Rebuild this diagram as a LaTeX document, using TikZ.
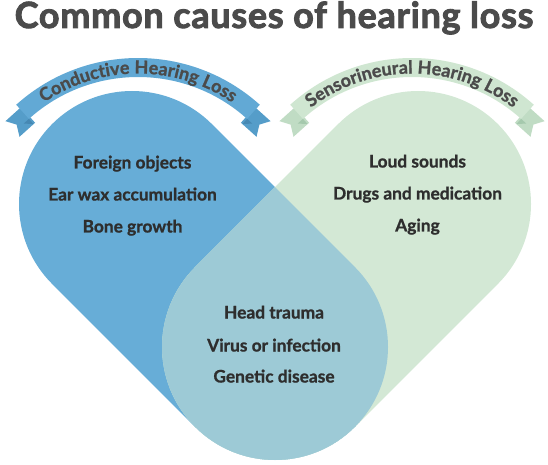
\documentclass[tikz,border=0pt]{standalone}
\usepackage{fontspec}
\setmainfont{Lato}[BoldFeatures={FakeBold=1}]
\newfontfamily\titlefont{Lato}[BoldFeatures={FakeBold=2.5,LetterSpace=2}]
\newfontfamily\bannerfont{Lato}[BoldFeatures={FakeBold=1.2,LetterSpace=1}]
\usetikzlibrary{decorations.text}
\definecolor{cblue}{HTML}{67ADD7}
\definecolor{cgreen}{HTML}{D3E8D5}
\definecolor{cteal}{HTML}{9DCAD6}
\definecolor{bblue}{HTML}{62A9D5}
\definecolor{bbluetail}{HTML}{559DC9}
\definecolor{bbluefold}{HTML}{4688B3}
\definecolor{bgreen}{HTML}{CFE6D1}
\definecolor{bgreentail}{HTML}{C0DCC4}
\definecolor{bgreenfold}{HTML}{A5C9AD}
\definecolor{txt}{HTML}{2E2E2E}
\definecolor{ttl}{HTML}{4B4B4B}
\tikzset{
  item/.style={font=\fontsize{13}{15}\selectfont\bfseries, text=txt, anchor=base, inner sep=0pt},
  bannertext/.style={decorate, decoration={text along path, text align=center,
     text={|\bannerfont\fontsize{13.5}{15}\selectfont\bfseries\color{ttl}|#1}}},
}
% #1 centre x, #2 centre y, #3 band, #4 tail, #5 fold, #6 text
\newcommand\drawbanner[6]{%
  \foreach \ang/\ys in {132/1,48/-1}{%
    \begin{scope}[shift={(#1,#2)}, rotate=\ang, yscale=\ys]
      \fill[#4] (177,-2) -- (177,19) -- (167,13) -- (156,19) -- (156,-2) -- cycle;
      \fill[#5] (163,0) -- (156,0) -- (163,7) -- cycle;
    \end{scope}}
  \fill[#3] (#1,#2) ++(132:182) arc[start angle=132,end angle=48,radius=182]
     -- ++(228:19) arc[start angle=48,end angle=132,radius=163] -- cycle;
  \path[bannertext={#6}] (#1,#2) ++(132:166.5) arc[start angle=132,end angle=48,radius=166.5];
}
\begin{document}
\begin{tikzpicture}[x=0.75pt,y=0.75pt]
\useasboundingbox (0,0) rectangle (548,464);
% capsules
\fill[cblue] (132,260) ++(45:113) arc[start angle=45,end angle=225,radius=113]
   -- ++(-45:202.23) arc[start angle=225,end angle=405,radius=113] -- cycle;
\fill[cgreen] (418,260) ++(-45:113) arc[start angle=-45,end angle=135,radius=113]
   -- ++(225:202.23) arc[start angle=135,end angle=315,radius=113] -- cycle;
\begin{scope}
\clip (132,260) ++(45:113) arc[start angle=45,end angle=225,radius=113]
   -- ++(-45:202.23) arc[start angle=225,end angle=405,radius=113] -- cycle;
\fill[cteal] (418,260) ++(-45:113) arc[start angle=-45,end angle=135,radius=113]
   -- ++(225:202.23) arc[start angle=135,end angle=315,radius=113] -- cycle;
\end{scope}
% banners
\drawbanner{138}{224}{bblue}{bbluetail}{bbluefold}{Conductive Hearing Loss}
\drawbanner{412}{224}{bgreen}{bgreentail}{bgreenfold}{Sensorineural Hearing Loss}
% title
\node[anchor=base, inner sep=0pt, text=ttl, font=\titlefont\fontsize{27}{30}\selectfont\bfseries] (title) at (274,436) {Common causes of hearing loss};
% items
\node[item] (c1) at (132.5,295.5) {Foreign objects};
\node[item] (c2) at (132.5,263.5) {Ear wax accumulation};
\node[item] (c3) at (132.5,231.5) {Bone growth};
\node[item] (s1) at (417.5,296.5) {Loud sounds};
\node[item] (s2) at (417.5,264.5) {Drugs and medication};
\node[item] (s3) at (417.5,232.5) {Aging};
\node[item] (b1) at (274,145.5) {Head trauma};
\node[item] (b2) at (274,112.5) {Virus or infection};
\node[item] (b3) at (274,81.5) {Genetic disease};
\end{tikzpicture}
\end{document}
